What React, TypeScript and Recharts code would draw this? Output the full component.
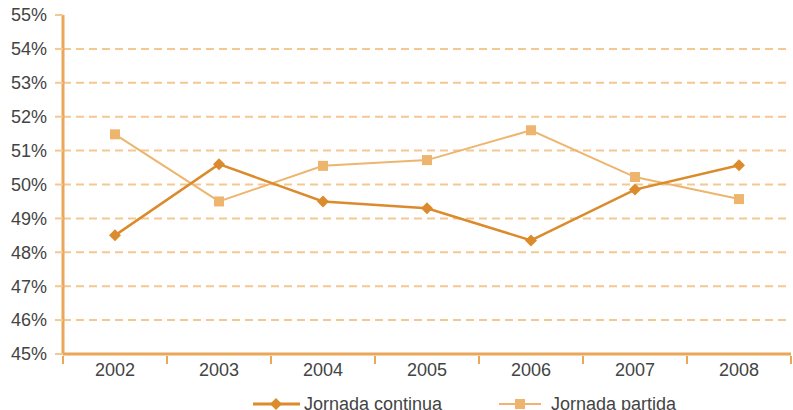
import React from "react";
import { LineChart, Line, XAxis, YAxis, CartesianGrid } from "recharts";

const years = ["2002", "2003", "2004", "2005", "2006", "2007", "2008"];
const continua = [48.5, 50.6, 49.5, 49.3, 48.35, 49.85, 50.57];
const partida = [51.48, 49.5, 50.55, 50.72, 51.6, 50.22, 49.57];
const yTicks = [45, 46, 47, 48, 49, 50, 51, 52, 53, 54, 55];

const data = years.map((y, i) => ({ year: y, continua: continua[i], partida: partida[i] }));

const DARK = "#DB8B2C";
const LIGHT = "#EDB56E";
const AXIS = "#E9A75A";
const GRID = "#F3C893";
const TEXT = "#444444";
const FONT = "'Liberation Sans', Arial, sans-serif";

const Diamond = (props: any) => {
  const { cx, cy } = props;
  if (cx == null || cy == null) return null;
  const r = 6;
  return <path d={`M${cx},${cy - r}L${cx + r},${cy}L${cx},${cy + r}L${cx - r},${cy}Z`} fill={DARK} />;
};

const Square = (props: any) => {
  const { cx, cy } = props;
  if (cx == null || cy == null) return null;
  return <rect x={cx - 5} y={cy - 5} width={10} height={10} fill={LIGHT} />;
};

const XTick = (props: any) => {
  const { x, y, payload, index } = props;
  const half = 52;
  return (
    <g>
      <line x1={x - half} y1={y - 6} x2={x - half} y2={y + 2} stroke={AXIS} strokeWidth={2} />
      {index === years.length - 1 && (
        <line x1={x + half} y1={y - 6} x2={x + half} y2={y + 2} stroke={AXIS} strokeWidth={2} />
      )}
      <text x={x} y={y + 14} textAnchor="middle" fill={TEXT} fontSize={18} fontFamily={FONT}>
        {payload.value}
      </text>
    </g>
  );
};

const LegendBox = () => (
  <svg width={793} height={24} style={{ position: "absolute", left: 0, top: 392 }}>
    <line x1={253} y1={12} x2={300} y2={12} stroke={DARK} strokeWidth={3} />
    <Diamond cx={276} cy={12} />
    <text x={304} y={18} fill={TEXT} fontSize={18} fontFamily={FONT}>Jornada continua</text>
    <line x1={499} y1={12} x2={541} y2={12} stroke={LIGHT} strokeWidth={2} />
    <Square cx={520} cy={12} />
    <text x={551} y={18} fill={TEXT} fontSize={18} fontFamily={FONT}>Jornada partida</text>
  </svg>
);

export default function App() {
  return (
    <div style={{ position: "absolute", left: 0, top: 0, width: 793, height: 410, background: "#fff", overflow: "hidden" }}>
      <LineChart width={793} height={410} data={data} margin={{ top: 15, right: 2, left: 0, bottom: 16 }}>
        <CartesianGrid
          vertical={false}
          horizontalValues={[46, 47, 48, 49, 50, 51, 52, 53, 54]}
          stroke={GRID}
          strokeWidth={2}
          strokeDasharray="8 5"
        />
        <XAxis
          dataKey="year"
          axisLine={{ stroke: AXIS, strokeWidth: 3 }}
          tickLine={false}
          tick={<XTick />}
          interval={0}
          height={40}
          padding={{ left: 52, right: 52 }}
        />
        <YAxis
          domain={[45, 55]}
          ticks={yTicks}
          width={63}
          axisLine={{ stroke: AXIS, strokeWidth: 3 }}
          tickLine={{ stroke: GRID, strokeWidth: 2, strokeDasharray: "8 5" }}
          tickSize={8}
          tickMargin={8}
          tickFormatter={(v: number) => `${v}%`}
          tick={{ fill: TEXT, fontSize: 18, fontFamily: FONT }}
        />
        <Line
          type="linear"
          dataKey="partida"
          stroke={LIGHT}
          strokeWidth={2}
          dot={<Square />}
          activeDot={false}
          isAnimationActive={false}
        />
        <Line
          type="linear"
          dataKey="continua"
          stroke={DARK}
          strokeWidth={2.5}
          dot={<Diamond />}
          activeDot={false}
          isAnimationActive={false}
        />
      </LineChart>
      <LegendBox />
    </div>
  );
}
